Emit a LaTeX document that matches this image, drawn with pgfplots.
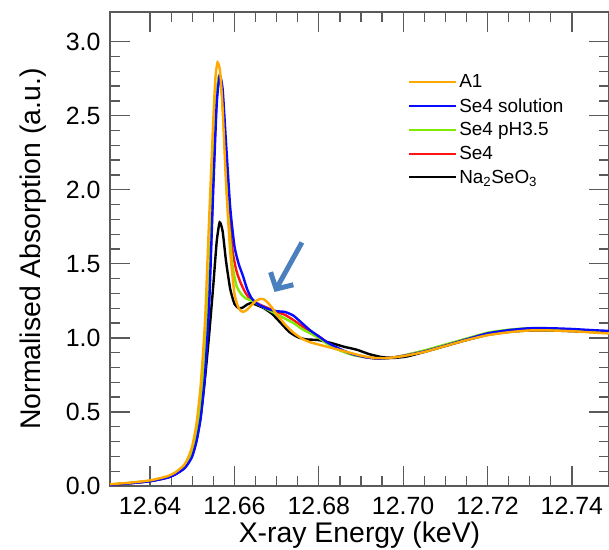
\documentclass[border=0pt]{standalone}
\usepackage{fontspec}
\setmainfont{Liberation Sans}
\usepackage{pgfplots}
\pgfplotsset{compat=1.18}
\usetikzlibrary{arrows.meta}
\definecolor{cOrange}{RGB}{255,168,0}
\definecolor{cBlue}{RGB}{10,10,255}
\definecolor{cGreen}{RGB}{128,235,0}
\definecolor{cRed}{RGB}{255,20,20}
\definecolor{cArrow}{RGB}{74,128,190}
\definecolor{cAxis}{RGB}{90,90,90}
\begin{document}
\begin{tikzpicture}[x=1bp,y=1bp]
\begin{axis}[
  at={(0,0)}, anchor=south west,
  scale only axis, width=499bp, height=474bp,
  xmin=12.6305, xmax=12.7488, ymin=0, ymax=3.2,
  xtick={12.64,12.66,12.68,12.70,12.72,12.74},
  xticklabels={12.64,12.66,12.68,12.70,12.72,12.74},
  minor x tick num=3,
  ytick={0,0.5,1,1.5,2,2.5,3},
  yticklabels={0.0,0.5,1.0,1.5,2.0,2.5,3.0},
  minor y tick num=4,
  tick align=inside,
  major tick length=20bp, minor tick length=10bp,
  every tick/.style={cAxis, line width=1.3bp},
  axis line style={cAxis, line width=1.6bp},
  /pgf/number format/assume math mode=true,
  ticklabel style={font=\fontsize{25}{28}\selectfont},
  xticklabel style={yshift=-8bp},
  yticklabel style={xshift=-6bp},
  xlabel={X-ray Energy (keV)},
  ylabel={Normalised Absorption (a.u.)},
  label style={font=\fontsize{28.5}{31}\selectfont},
  xlabel style={yshift=0bp},
  ylabel style={yshift=13bp},
  legend style={draw=none, fill=none, at={(0.597,0.872)}, anchor=north west,
    font=\fontsize{19}{22}\selectfont, row sep=5bp, inner sep=0pt},
  legend cell align=left,
  legend image code/.code={\draw[#1, line width=2.2bp] (0bp,0bp) -- (47bp,0bp);},
  every axis plot/.append style={line width=2.4bp, smooth, tension=0.35},
]
\addlegendimage{cOrange}\addlegendentry{A1}
\addlegendimage{cBlue}\addlegendentry{Se4 solution}
\addlegendimage{cGreen}\addlegendentry{Se4 pH3.5}
\addlegendimage{cRed}\addlegendentry{Se4}
\addlegendimage{black}\addlegendentry{Na\textsubscript{2}SeO\textsubscript{3}}

% Na2SeO3 (black)
\addplot[black, forget plot] coordinates {
(12.6305,0.008) (12.635,0.018) (12.640,0.033) (12.644,0.056) (12.646,0.08)
(12.648,0.118) (12.649,0.155) (12.650,0.21) (12.651,0.31) (12.652,0.47)
(12.653,0.72) (12.654,1.02) (12.655,1.36) (12.6558,1.65) (12.6565,1.78)
(12.6572,1.72) (12.658,1.52) (12.659,1.33) (12.660,1.23) (12.661,1.20)
(12.662,1.205) (12.663,1.225) (12.664,1.235) (12.665,1.225) (12.667,1.20)
(12.669,1.16) (12.671,1.10) (12.673,1.04) (12.675,1.005) (12.677,0.99)
(12.680,0.985) (12.683,0.965) (12.686,0.94) (12.689,0.92) (12.692,0.89)
(12.695,0.87) (12.698,0.865) (12.701,0.875) (12.705,0.905) (12.710,0.945)
(12.715,0.985) (12.720,1.02) (12.725,1.04) (12.730,1.05) (12.735,1.05)
(12.740,1.045) (12.745,1.04) (12.7488,1.035)};

% Se4 (red)
\addplot[cRed, forget plot] coordinates {
(12.6305,0.009) (12.635,0.019) (12.640,0.034) (12.644,0.058) (12.646,0.082)
(12.648,0.12) (12.649,0.16) (12.650,0.22) (12.651,0.33) (12.652,0.51)
(12.653,0.80) (12.654,1.30) (12.655,2.08) (12.6557,2.58) (12.6563,2.76)
(12.657,2.67) (12.6577,2.35) (12.6585,1.95) (12.6595,1.60) (12.6605,1.45)
(12.6615,1.37) (12.6625,1.31) (12.6635,1.27) (12.6645,1.245) (12.666,1.225)
(12.668,1.20) (12.670,1.175) (12.672,1.155) (12.674,1.12) (12.676,1.08)
(12.678,1.04) (12.680,1.01) (12.682,0.97) (12.685,0.92) (12.688,0.89)
(12.691,0.87) (12.694,0.86) (12.697,0.865) (12.700,0.88) (12.705,0.912)
(12.710,0.952) (12.715,0.992) (12.720,1.03) (12.725,1.052) (12.730,1.062)
(12.735,1.06) (12.740,1.055) (12.745,1.045) (12.7488,1.04)};

% Se4 pH3.5 (green)
\addplot[cGreen, forget plot] coordinates {
(12.6305,0.010) (12.635,0.020) (12.640,0.035) (12.644,0.060) (12.646,0.085)
(12.648,0.125) (12.649,0.165) (12.650,0.23) (12.651,0.35) (12.652,0.55)
(12.653,0.88) (12.654,1.40) (12.655,2.15) (12.6557,2.60) (12.6563,2.76)
(12.657,2.66) (12.6577,2.30) (12.6585,1.85) (12.6595,1.50) (12.6605,1.35)
(12.6615,1.30) (12.6625,1.27) (12.6645,1.245) (12.666,1.22) (12.668,1.19)
(12.670,1.16) (12.672,1.13) (12.674,1.10) (12.676,1.06) (12.678,1.03)
(12.680,1.00) (12.682,0.96) (12.685,0.915) (12.688,0.885) (12.691,0.87)
(12.694,0.86) (12.697,0.865) (12.700,0.88) (12.705,0.915) (12.710,0.955)
(12.715,0.995) (12.720,1.035) (12.725,1.055) (12.730,1.065) (12.735,1.06)
(12.740,1.055) (12.745,1.045) (12.7488,1.04)};

% Se4 solution (blue)
\addplot[cBlue, forget plot] coordinates {
(12.6305,0.008) (12.635,0.018) (12.640,0.032) (12.644,0.055) (12.646,0.078)
(12.648,0.115) (12.649,0.15) (12.650,0.20) (12.651,0.30) (12.652,0.46)
(12.653,0.74) (12.654,1.22) (12.655,2.02) (12.6558,2.58) (12.6565,2.77)
(12.6572,2.68) (12.658,2.32) (12.659,1.88) (12.660,1.62) (12.661,1.50)
(12.662,1.42) (12.663,1.33) (12.664,1.27) (12.665,1.24) (12.666,1.22)
(12.668,1.195) (12.670,1.18) (12.672,1.175) (12.674,1.15) (12.676,1.10)
(12.678,1.05) (12.680,1.01) (12.682,0.97) (12.685,0.925) (12.688,0.89)
(12.691,0.87) (12.694,0.86) (12.697,0.865) (12.700,0.878) (12.705,0.908)
(12.710,0.948) (12.715,0.99) (12.720,1.03) (12.725,1.052) (12.730,1.065)
(12.735,1.065) (12.740,1.06) (12.745,1.052) (12.7488,1.047)};

% A1 (orange)
\addplot[cOrange, forget plot] coordinates {
(12.6305,0.012) (12.635,0.022) (12.640,0.038) (12.644,0.065) (12.646,0.092)
(12.648,0.14) (12.649,0.19) (12.650,0.27) (12.651,0.42) (12.652,0.68)
(12.653,1.10) (12.654,1.80) (12.655,2.48) (12.6555,2.76) (12.656,2.86)
(12.6566,2.80) (12.6572,2.55) (12.658,2.05) (12.659,1.58) (12.660,1.30)
(12.661,1.20) (12.662,1.175) (12.663,1.19) (12.664,1.22) (12.665,1.248)
(12.666,1.262) (12.667,1.26) (12.668,1.235) (12.669,1.20) (12.670,1.16)
(12.672,1.09) (12.674,1.035) (12.676,0.995) (12.678,0.97) (12.682,0.94)
(12.686,0.91) (12.690,0.88) (12.693,0.865) (12.696,0.863) (12.700,0.877)
(12.705,0.905) (12.710,0.945) (12.715,0.985) (12.720,1.018) (12.725,1.038)
(12.730,1.05) (12.735,1.05) (12.740,1.045) (12.745,1.036) (12.7488,1.03)};

\draw[cArrow, line width=5bp, -{Straight Barb[length=12bp, width=26bp, line width=5bp]}]
  (axis cs:12.676,1.644) -- (axis cs:12.6695,1.31);
\end{axis}
\pgfresetboundingbox
\path (-110bp,-64bp) rectangle (499bp,486bp);
\end{tikzpicture}
\end{document}
